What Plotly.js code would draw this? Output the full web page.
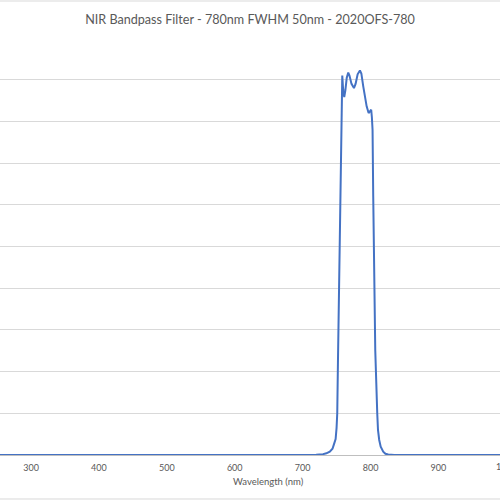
<!DOCTYPE html>
<html>
<head>
<meta charset="utf-8">
<script src="https://cdn.plot.ly/plotly-3.0.1.min.js"></script>
<style>
  html, body { margin: 0; padding: 0; background: #fff; }
  #chart { width: 500px; height: 500px; }
</style>
</head>
<body>
<div id="chart"></div>
<script>
// Transmission (%) vs wavelength (nm)
const wavelength = [
    250, 300, 400, 500, 600, 700, 720, 730, 735, 740, 744, 746, 748.6, 750, 751,
    752, 753.5, 755, 756.4, 757.3, 758.4, 759.5, 761.3, 763, 765, 767.2, 769, 772,
    775.6, 778, 781, 784.4, 786.5, 789.3, 792, 794.3, 797.2, 799, 801, 802, 803,
    804, 805.5, 807, 809.9, 811, 812.8, 815, 818.7, 822, 826, 835, 900, 1000
];
const transmission = [
    0, 0, 0, 0, 0, 0, 0.05, 0.2, 0.4, 0.8, 1.5, 2.5, 3.8, 6.5, 10,
    22, 40, 60, 80, 88, 91, 88, 85.8, 87.5, 90.5, 91.7, 91, 89,
    88, 89, 91.3, 92.2, 91.5, 88.4, 85.5, 83.6, 82, 82.4, 82.8, 81, 78,
    62, 40, 25, 10, 6, 3.6, 2, 0.8, 0.3, 0.1, 0, 0, 0
];
const xTicks = [300, 400, 500, 600, 700, 800, 900];

const textColor = '#595959';
const gridColor = '#d9d9d9';
const font = 'Lato, "Open Sans", sans-serif';

const trace = {
    type: 'scatter',
    mode: 'lines',
    x: wavelength,
    y: transmission,
    line: { color: '#4472c4', width: 2 },
    hoverinfo: 'x+y'
};

const layout = {
    width: 500,
    height: 500,
    paper_bgcolor: '#ffffff',
    plot_bgcolor: '#ffffff',
    margin: { t: 38, b: 45, l: 0, r: 0, pad: 0 },
    showlegend: false,
    font: { family: font, color: textColor },
    title: {
        text: 'NIR Bandpass Filter - 780nm FWHM 50nm - 2020OFS-780',
        font: { family: font, size: 12.6, color: textColor },
        x: 0.5,
        xanchor: 'center',
        y: 1 - 20 / 500,
        yanchor: 'middle'
    },
    xaxis: {
        range: [254.3, 990.7],
        tickvals: xTicks,
        ticktext: xTicks.map(String),
        tickfont: { family: font, size: 9, color: textColor },
        showgrid: false,
        zeroline: false,
        showline: true,
        linecolor: '#bfbfbf',
        linewidth: 1,
        ticks: '',
        ticklabelstandoff: 4
    },
    yaxis: {
        range: [0, 100],
        dtick: 10,
        showticklabels: false,
        showgrid: true,
        gridcolor: gridColor,
        gridwidth: 1,
        zeroline: false,
        ticks: ''
    },
    shapes: [
        // chart area border, top and bottom
        { type: 'line', xref: 'paper', yref: 'paper', x0: 0, x1: 1,
          y0: 1.0887, y1: 1.0887, line: { color: gridColor, width: 1 } },
        { type: 'line', xref: 'paper', yref: 'paper', x0: 0, x1: 1,
          y0: -0.1055, y1: -0.1055, line: { color: gridColor, width: 1 } }
    ],
    annotations: [
        // axis title is centred on the full (uncropped) plot area, so it sits right of middle
        { xref: 'paper', yref: 'paper', x: 0.536, y: -0.0624,
          xanchor: 'center', yanchor: 'middle', showarrow: false, text: 'Wavelength (nm)',
          font: { family: font, size: 9.5, color: textColor } },
        // 1000 label sits past the cropped right edge
        { xref: 'paper', yref: 'paper', x: (1000 - 254.3) / 736.4, y: -0.028,
          xanchor: 'center', yanchor: 'middle', showarrow: false, text: '1000',
          font: { family: font, size: 9, color: textColor } }
    ]
};

Plotly.newPlot('chart', [trace], layout, { displayModeBar: false, staticPlot: true });
</script>
</body>
</html>
